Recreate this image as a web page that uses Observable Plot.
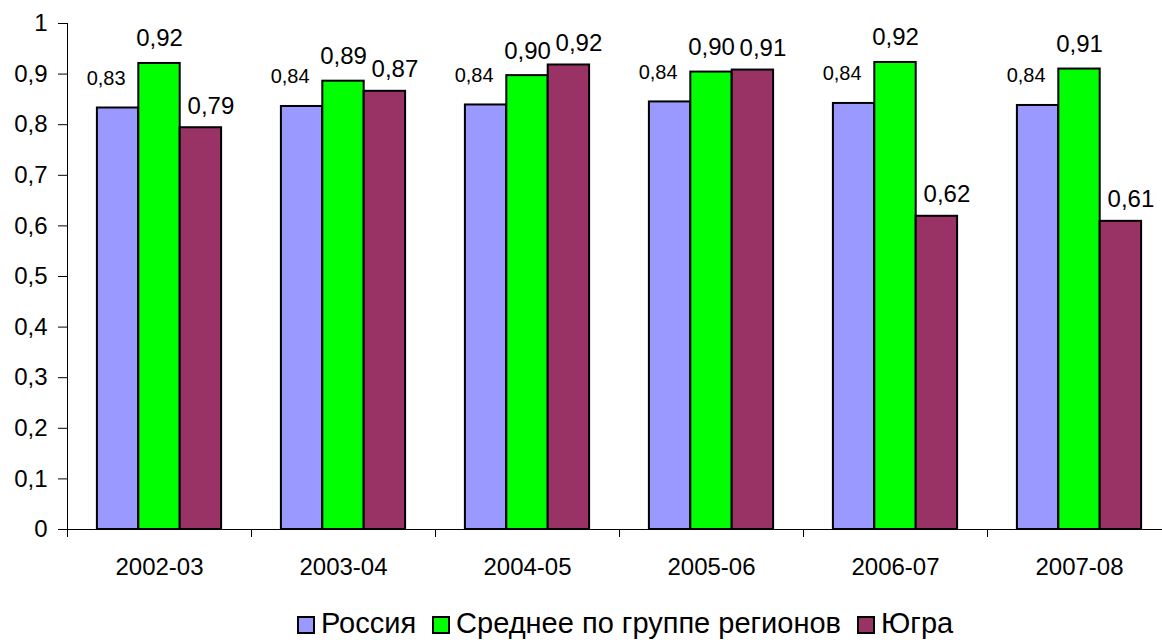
<!DOCTYPE html>
<html>
<head>
<meta charset="utf-8">
<script src="https://cdn.jsdelivr.net/npm/d3@7"></script>
<script src="https://cdn.jsdelivr.net/npm/@observablehq/plot@0.6"></script>
<style>
  body { margin: 0; background: #fff; font-family: "Liberation Sans", Arial, sans-serif; }
  #wrap { position: relative; width: 1162px; height: 644px; overflow: hidden; background: #fff; }
  #legend { position: absolute; left: 297px; top: 609px; display: flex; align-items: center;
            font-size: 29px; line-height: 29px; color: #000; white-space: nowrap; }
  .item { display: flex; align-items: center; margin-right: 16px; }
  .sw { width: 14px; height: 14px; border: 2px solid #000; margin-right: 6px; margin-top: 3px; }
</style>
</head>
<body>
<div id="wrap"><div id="chart"></div><div id="legend"></div></div>
<script>
// ---- data ----
const years = ["2002-03", "2003-04", "2004-05", "2005-06", "2006-07", "2007-08"];
const seriesNames = ["Россия", "Среднее по группе регионов", "Югра"];
const russia   = [0.833, 0.836, 0.839, 0.845, 0.842, 0.838];
const groupAvg = [0.921, 0.886, 0.897, 0.904, 0.923, 0.910];
const yugra    = [0.794, 0.866, 0.918, 0.908, 0.619, 0.609];
const yTicks   = [0, 0.1, 0.2, 0.3, 0.4, 0.5, 0.6, 0.7, 0.8, 0.9, 1];
const colors   = ["#9999FF", "#00FF00", "#993366"];

const seriesValues = [russia, groupAvg, yugra];
const rows = seriesValues.flatMap((vals, s) =>
  vals.map((value, i) => ({ year: years[i], series: seriesNames[s], s, i, value })));

// layout of bars inside each year group (fractions of a group)
const barW = 0.225;
const pad = (1 - 3 * barW) / 2;
const bx1 = d => d.i + pad + d.s * barW;
const bx2 = d => d.i + pad + (d.s + 1) * barW;
const bxc = d => d.i + pad + (d.s + 0.5) * barW;

const comma = v => String(v).replace(".", ",");
const fmtTick = v => comma(+v.toFixed(1));
const fmtVal = v => comma(v.toFixed(2));

const labelStyle = [
  { dx: -12, dy: -23, fontSize: 20 },
  { dx: 0,   dy: -17, fontSize: 24 },
  { dx: 10,  dy: -14, fontSize: 24 }
];

const chart = Plot.plot({
  width: 1162,
  height: 590,
  marginLeft: 67,
  marginRight: -9,
  marginTop: 23,
  marginBottom: 61,
  style: { fontFamily: '"Liberation Sans", Arial, sans-serif', color: "#000", background: "#fff", overflow: "hidden" },
  x: { domain: [0, years.length], axis: null, label: null },
  y: { domain: [0, 1], axis: null, label: null },
  color: { domain: seriesNames, range: colors },
  marks: [
    Plot.rectY(rows, { x1: bx1, x2: bx2, y1: 0, y2: "value", fill: "series", stroke: "#000", strokeWidth: 2 }),
    Plot.ruleY([0], { stroke: "#000", strokeWidth: 1 }),
    Plot.ruleX([0], { y1: 0, y2: 1, stroke: "#000", strokeWidth: 1 }),
    Plot.axisY({ ticks: yTicks, tickFormat: fmtTick, tickSize: 9, tickPadding: 11, fontSize: 24, label: null, stroke: "#000" }),
    Plot.axisX({ ticks: d3.range(years.length + 1), tickFormat: () => "", tickSize: 8, label: null, stroke: "#000" }),
    Plot.axisX({ ticks: years.map((_, i) => i + 0.5), tickFormat: v => years[Math.floor(v)], tickSize: 0, tickPadding: 28, fontSize: 24, label: null }),
    ...labelStyle.map((st, s) =>
      Plot.text(rows.filter(d => d.s === s), {
        x: bxc, y: "value", text: d => fmtVal(d.value),
        lineAnchor: "bottom", dx: st.dx, dy: st.dy, fontSize: st.fontSize, fill: "#000"
      }))
  ]
});
document.getElementById("chart").appendChild(chart);

const legend = document.getElementById("legend");
seriesNames.forEach((name, s) => {
  const item = document.createElement("div");
  item.className = "item";
  const sw = document.createElement("div");
  sw.className = "sw";
  sw.style.background = colors[s];
  const t = document.createElement("span");
  t.textContent = name;
  item.appendChild(sw);
  item.appendChild(t);
  legend.appendChild(item);
});
</script>
</body>
</html>
